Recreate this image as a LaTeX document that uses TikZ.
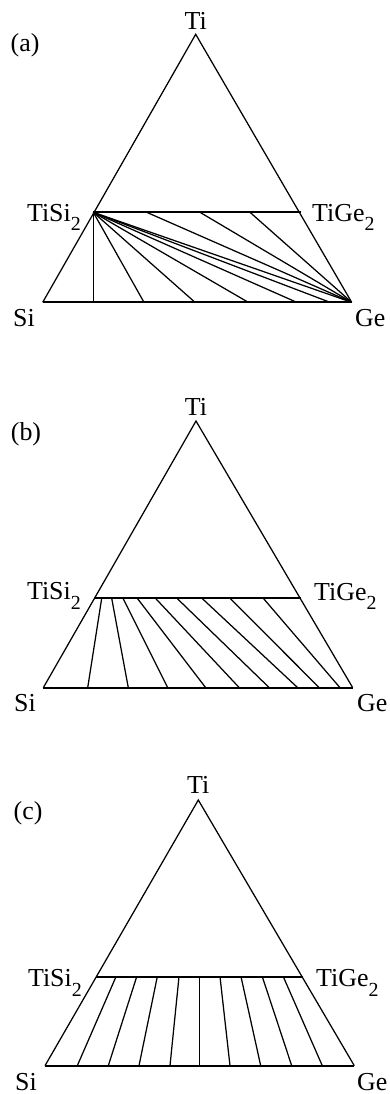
\documentclass[tikz,border=0pt]{standalone}
\usepackage{fontspec}
\setmainfont{Liberation Serif}
\newcommand{\chemsub}[1]{\raisebox{-9.5bp}{\fontsize{20}{21}\selectfont #1}}
\tikzset{
  side/.style={line width=1.25bp},
  heavy/.style={line width=2.2bp},
  tie/.style={line width=1.25bp},
  lab/.style={font=\fontsize{26}{29}\selectfont, inner sep=0pt, anchor=base},
  panel/.style={font=\fontsize{26}{29}\selectfont, inner sep=0pt, anchor=center},
}
\begin{document}
\begin{tikzpicture}[x=1bp,y=-1bp,line join=miter]
\useasboundingbox (0,0) rectangle (389,1094);
% ---------------- panel (a)
\coordinate (aTi) at (195.7,34.3);
\coordinate (aS) at (93.3,212.3);
\coordinate (aG) at (300.7,212.3);
\coordinate (aSi) at (42.7,302.3);
\coordinate (aGe) at (351.7,302.3);
\draw[side] (aSi) -- (aTi) -- (aGe);
\draw[heavy] (aSi) -- (aGe);
\draw[heavy] (aS) -- (aG);
\foreach \b [count=\i] in {93.3,144,195,248.3,296.7,330} {
  \coordinate (ab\i) at (\b,302.3);
  \draw[tie] (aS) -- (ab\i);
}
\draw[tie] (aS) -- (aGe);
\foreach \t [count=\i] in {146.7,200,250} {
  \coordinate (at\i) at (\t,212.3);
  \draw[tie] (at\i) -- (aGe);
}
\node[panel] (alab) at (25,45) {(a)};
\node[lab] (aTiL) at (195.7,29.3) {Ti};
\node[lab,anchor=base east] (aSL) at (81,221) {TiSi\chemsub{2}};
\node[lab,anchor=base west] (aGL) at (312,221) {TiGe\chemsub{2}};
\node[lab,anchor=base west] (aSiL) at (13,326) {Si};
\node[lab,anchor=base west] (aGeL) at (355,326) {Ge};
% ---------------- panel (b)
\coordinate (bTi) at (196,421);
\coordinate (bS) at (94.3,598.3);
\coordinate (bG) at (301,598.3);
\coordinate (bSi) at (43.3,687.7);
\coordinate (bGe) at (352.7,687.7);
\draw[side] (bSi) -- (bTi) -- (bGe);
\draw[heavy] (bSi) -- (bGe);
\draw[heavy] (bS) -- (bG);
\foreach \t/\b [count=\i] in {101.7/87.7,111.7/128.3,123/167.7,137.3/205.7,155.5/239.3,177/269.3,202/297.7,230/319.3,263.3/340} {
  \coordinate (bt\i) at (\t,598.3);
  \coordinate (bb\i) at (\b,687.7);
  \draw[tie] (bt\i) -- (bb\i);
}
\node[panel] (blab) at (26,434) {(b)};
\node[lab] (bTiL) at (196,415) {Ti};
\node[lab,anchor=base east] (bSL) at (81,599.5) {TiSi\chemsub{2}};
\node[lab,anchor=base west] (bGL) at (314,600) {TiGe\chemsub{2}};
\node[lab,anchor=base west] (bSiL) at (14,711.5) {Si};
\node[lab,anchor=base west] (bGeL) at (357,711.5) {Ge};
% ---------------- panel (c)
\coordinate (cTi) at (198.3,800);
\coordinate (cS) at (96,976.7);
\coordinate (cG) at (303.3,976.7);
\coordinate (cSi) at (45,1065.7);
\coordinate (cGe) at (354.3,1065.7);
\draw[side] (cSi) -- (cTi) -- (cGe);
\draw[heavy] (cSi) -- (cGe);
\draw[heavy] (cS) -- (cG);
\foreach \t/\b [count=\i] in {116/77.3,136.7/108.3,157.3/139,179/170,199.3/199.3,220/230,241/260.7,262.3/291.7,283.3/322.3} {
  \coordinate (ct\i) at (\t,976.7);
  \coordinate (cb\i) at (\b,1065.7);
  \draw[tie] (ct\i) -- (cb\i);
}
\node[panel] (clab) at (28,813) {(c)};
\node[lab] (cTiL) at (198.3,793.3) {Ti};
\node[lab,anchor=base east] (cSL) at (82,986.5) {TiSi\chemsub{2}};
\node[lab,anchor=base west] (cGL) at (316,986.7) {TiGe\chemsub{2}};
\node[lab,anchor=base west] (cSiL) at (15,1090) {Si};
\node[lab,anchor=base west] (cGeL) at (357,1090) {Ge};
\end{tikzpicture}
\end{document}
